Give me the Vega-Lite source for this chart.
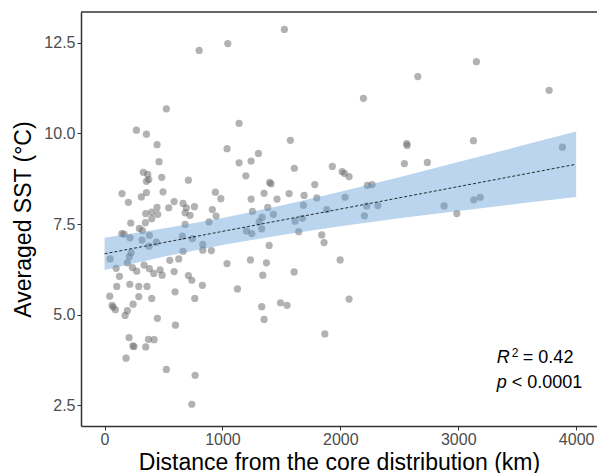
{
  "$schema": "https://vega.github.io/schema/vega-lite/v6.json",
  "autosize": {"type": "none"},
  "padding": {"left": 81, "top": 12, "right": 0, "bottom": 47},
  "width": 516,
  "height": 414,
  "background": "white",
  "config": {
    "view": {"stroke": null},
    "font": "Liberation Sans",
    "axis": {
      "grid": false,
      "domainColor": "#333333",
      "domainWidth": 1.5,
      "tickColor": "#333333",
      "tickSize": 4,
      "labelColor": "#4d4d4d",
      "labelFontSize": 16,
      "labelFont": "Liberation Sans",
      "titleFont": "Liberation Sans",
      "titleFontSize": 23,
      "titleFontWeight": "normal",
      "titleColor": "#000000"
    }
  },
  "datasets": {
    "pts": [
      {"dist": 1525, "sst": 12.87}, {"dist": 1045, "sst": 12.48}, {"dist": 802, "sst": 12.29},
      {"dist": 524, "sst": 10.68}, {"dist": 1141, "sst": 10.28}, {"dist": 270, "sst": 10.09},
      {"dist": 355, "sst": 9.98}, {"dist": 445, "sst": 9.69}, {"dist": 1576, "sst": 9.81},
      {"dist": 1039, "sst": 9.58}, {"dist": 462, "sst": 9.22}, {"dist": 1141, "sst": 9.19},
      {"dist": 1243, "sst": 9.24}, {"dist": 1305, "sst": 9.45}, {"dist": 1610, "sst": 9.04},
      {"dist": 1932, "sst": 9.09}, {"dist": 2015, "sst": 8.95}, {"dist": 1198, "sst": 8.83},
      {"dist": 329, "sst": 8.93}, {"dist": 366, "sst": 8.87}, {"dist": 375, "sst": 8.73},
      {"dist": 355, "sst": 8.68}, {"dist": 485, "sst": 8.79}, {"dist": 711, "sst": 8.71},
      {"dist": 1400, "sst": 8.65}, {"dist": 1412, "sst": 8.61}, {"dist": 1783, "sst": 8.59},
      {"dist": 148, "sst": 8.34}, {"dist": 202, "sst": 8.1}, {"dist": 312, "sst": 8.25},
      {"dist": 355, "sst": 8.37}, {"dist": 496, "sst": 8.39}, {"dist": 940, "sst": 8.38},
      {"dist": 986, "sst": 8.2}, {"dist": 1243, "sst": 8.19}, {"dist": 1353, "sst": 8.35},
      {"dist": 1463, "sst": 8.19}, {"dist": 1565, "sst": 8.34}, {"dist": 1692, "sst": 8.29},
      {"dist": 1800, "sst": 8.22}, {"dist": 590, "sst": 8.12}, {"dist": 544, "sst": 7.95},
      {"dist": 666, "sst": 8.07}, {"dist": 694, "sst": 7.95}, {"dist": 762, "sst": 7.98},
      {"dist": 445, "sst": 7.96}, {"dist": 349, "sst": 7.79}, {"dist": 400, "sst": 7.83},
      {"dist": 451, "sst": 7.77}, {"dist": 914, "sst": 7.9}, {"dist": 1254, "sst": 7.85},
      {"dist": 1384, "sst": 7.96}, {"dist": 1336, "sst": 7.69}, {"dist": 1432, "sst": 7.77},
      {"dist": 1687, "sst": 8.02}, {"dist": 1885, "sst": 7.9}, {"dist": 683, "sst": 7.81},
      {"dist": 725, "sst": 7.74}, {"dist": 400, "sst": 7.65}, {"dist": 346, "sst": 7.54},
      {"dist": 946, "sst": 7.72}, {"dist": 1311, "sst": 7.56}, {"dist": 1333, "sst": 7.37},
      {"dist": 1203, "sst": 7.31}, {"dist": 1249, "sst": 7.24}, {"dist": 1616, "sst": 7.58},
      {"dist": 1678, "sst": 7.66}, {"dist": 1647, "sst": 7.29}, {"dist": 1842, "sst": 7.2},
      {"dist": 1862, "sst": 6.99}, {"dist": 1998, "sst": 6.51}, {"dist": 886, "sst": 7.56},
      {"dist": 683, "sst": 7.49}, {"dist": 660, "sst": 7.17}, {"dist": 745, "sst": 7.1},
      {"dist": 833, "sst": 6.94}, {"dist": 833, "sst": 6.78}, {"dist": 906, "sst": 6.77},
      {"dist": 666, "sst": 6.75}, {"dist": 629, "sst": 6.54}, {"dist": 553, "sst": 6.5},
      {"dist": 590, "sst": 6.19}, {"dist": 488, "sst": 6.09}, {"dist": 471, "sst": 6.24},
      {"dist": 417, "sst": 6.14}, {"dist": 380, "sst": 6.27}, {"dist": 335, "sst": 6.37},
      {"dist": 273, "sst": 6.2}, {"dist": 236, "sst": 6.3}, {"dist": 193, "sst": 6.43},
      {"dist": 126, "sst": 6.06}, {"dist": 98, "sst": 6.28}, {"dist": 47, "sst": 6.54},
      {"dist": 225, "sst": 6.71}, {"dist": 210, "sst": 6.6}, {"dist": 216, "sst": 7.12},
      {"dist": 318, "sst": 7.06}, {"dist": 377, "sst": 6.89}, {"dist": 380, "sst": 7.19},
      {"dist": 439, "sst": 7.0}, {"dist": 146, "sst": 7.24}, {"dist": 165, "sst": 7.22},
      {"dist": 222, "sst": 7.53}, {"dist": 295, "sst": 7.38}, {"dist": 321, "sst": 7.32},
      {"dist": 1039, "sst": 6.41}, {"dist": 1237, "sst": 6.51}, {"dist": 1373, "sst": 6.43},
      {"dist": 1342, "sst": 6.09}, {"dist": 1608, "sst": 6.18}, {"dist": 1127, "sst": 5.71},
      {"dist": 711, "sst": 6.08}, {"dist": 740, "sst": 5.95}, {"dist": 830, "sst": 5.81},
      {"dist": 765, "sst": 5.45}, {"dist": 598, "sst": 5.63}, {"dist": 400, "sst": 5.45},
      {"dist": 290, "sst": 5.5}, {"dist": 290, "sst": 5.78}, {"dist": 360, "sst": 5.78},
      {"dist": 214, "sst": 5.84}, {"dist": 103, "sst": 5.78}, {"dist": 44, "sst": 5.51},
      {"dist": 64, "sst": 5.26}, {"dist": 72, "sst": 5.21}, {"dist": 92, "sst": 5.14},
      {"dist": 242, "sst": 5.29}, {"dist": 193, "sst": 5.11}, {"dist": 174, "sst": 4.98},
      {"dist": 448, "sst": 4.9}, {"dist": 601, "sst": 4.71}, {"dist": 1333, "sst": 5.22},
      {"dist": 1353, "sst": 4.87}, {"dist": 1492, "sst": 5.33}, {"dist": 1548, "sst": 5.26},
      {"dist": 1868, "sst": 4.47}, {"dist": 208, "sst": 4.37}, {"dist": 240, "sst": 4.14},
      {"dist": 250, "sst": 4.12}, {"dist": 349, "sst": 4.11}, {"dist": 372, "sst": 4.32},
      {"dist": 420, "sst": 4.31}, {"dist": 182, "sst": 3.8}, {"dist": 524, "sst": 3.49},
      {"dist": 768, "sst": 3.33}, {"dist": 740, "sst": 2.53}, {"dist": 1396, "sst": 6.91},
      {"dist": 2563, "sst": 9.72}, {"dist": 2566, "sst": 9.67}, {"dist": 2543, "sst": 9.17},
      {"dist": 2738, "sst": 9.2}, {"dist": 2034, "sst": 8.9}, {"dist": 2074, "sst": 8.81},
      {"dist": 2229, "sst": 8.57}, {"dist": 2269, "sst": 8.59}, {"dist": 2040, "sst": 8.24},
      {"dist": 2224, "sst": 8.0}, {"dist": 2318, "sst": 8.01}, {"dist": 2204, "sst": 7.73},
      {"dist": 2880, "sst": 8.0}, {"dist": 2988, "sst": 7.79}, {"dist": 3154, "sst": 11.98},
      {"dist": 2657, "sst": 11.57}, {"dist": 2196, "sst": 10.97}, {"dist": 3771, "sst": 11.19},
      {"dist": 3129, "sst": 9.8}, {"dist": 3884, "sst": 9.62}, {"dist": 3132, "sst": 8.17},
      {"dist": 3186, "sst": 8.24}, {"dist": 2074, "sst": 5.43}
    ],
    "fit": [
      {"dist": 0, "fit": 6.68, "lo": 6.235, "hi": 7.125},
      {"dist": 500, "fit": 6.989, "lo": 6.6, "hi": 7.38},
      {"dist": 1000, "fit": 7.298, "lo": 6.92, "hi": 7.67},
      {"dist": 1500, "fit": 7.606, "lo": 7.2, "hi": 8.01},
      {"dist": 2000, "fit": 7.915, "lo": 7.44, "hi": 8.39},
      {"dist": 2500, "fit": 8.224, "lo": 7.66, "hi": 8.79},
      {"dist": 3000, "fit": 8.533, "lo": 7.86, "hi": 9.21},
      {"dist": 3500, "fit": 8.841, "lo": 8.06, "hi": 9.63},
      {"dist": 4000, "fit": 9.15, "lo": 8.245, "hi": 10.055}
    ]
  },
  "layer": [
    {
      "data": {"name": "pts"},
      "mark": {"type": "circle", "size": 52, "color": "#666666", "opacity": 0.5},
      "encoding": {
        "x": {
          "field": "dist", "type": "quantitative",
          "scale": {"domain": [-200, 4177], "nice": false, "zero": false},
          "axis": {"values": [0, 1000, 2000, 3000, 4000], "format": "d", "labelPadding": 1, "titlePadding": 4,
                   "title": "Distance from the core distribution (km)"}
        },
        "y": {
          "field": "sst", "type": "quantitative",
          "scale": {"domain": [1.93, 13.35], "nice": false, "zero": false},
          "axis": {"values": [2.5, 5, 7.5, 10, 12.5], "format": ".1f", "labelPadding": 2, "titlePadding": 8,
                   "title": "Averaged SST (°C)"}
        }
      }
    },
    {
      "data": {"name": "fit"},
      "mark": {"type": "area", "color": "#5b9bd5", "opacity": 0.42},
      "encoding": {
        "x": {"field": "dist", "type": "quantitative"},
        "y": {"field": "lo", "type": "quantitative"},
        "y2": {"field": "hi"}
      }
    },
    {
      "data": {"name": "fit"},
      "mark": {"type": "line", "color": "#000000", "strokeWidth": 0.8, "strokeDash": [3, 2]},
      "encoding": {
        "x": {"field": "dist", "type": "quantitative"},
        "y": {"field": "fit", "type": "quantitative"}
      }
    },
    {
      "data": {"values": [{"label": "R", "dist": 3327, "sst": 3.66}, {"label": "p", "dist": 3327, "sst": 2.97}]},
      "mark": {"type": "text", "align": "left", "baseline": "alphabetic", "fontSize": 18, "fontStyle": "italic", "color": "#000000"},
      "encoding": {
        "x": {"field": "dist", "type": "quantitative"},
        "y": {"field": "sst", "type": "quantitative"},
        "text": {"field": "label"}
      }
    },
    {
      "data": {"values": [{"label": "2", "dist": 3454, "sst": 3.83}]},
      "mark": {"type": "text", "align": "left", "baseline": "alphabetic", "fontSize": 12, "color": "#000000"},
      "encoding": {
        "x": {"field": "dist", "type": "quantitative"},
        "y": {"field": "sst", "type": "quantitative"},
        "text": {"field": "label"}
      }
    },
    {
      "data": {"values": [{"label": "= 0.42", "dist": 3548, "sst": 3.66}, {"label": "< 0.0001", "dist": 3454, "sst": 2.97}]},
      "mark": {"type": "text", "align": "left", "baseline": "alphabetic", "fontSize": 18, "color": "#000000"},
      "encoding": {
        "x": {"field": "dist", "type": "quantitative"},
        "y": {"field": "sst", "type": "quantitative"},
        "text": {"field": "label"}
      }
    },
    {
      "data": {"values": [{}]},
      "mark": {"type": "rule", "color": "#333333", "strokeWidth": 1.5},
      "encoding": {"y": {"datum": 13.35}}
    }
  ]
}
